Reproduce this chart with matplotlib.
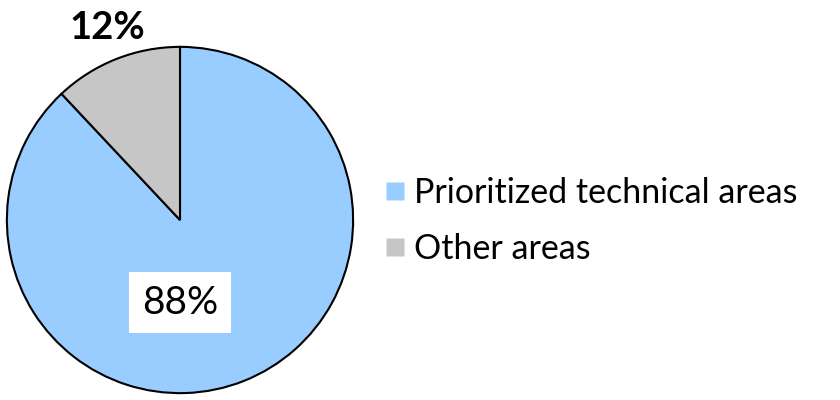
import matplotlib
matplotlib.use("Agg")
import matplotlib.pyplot as plt
from matplotlib.lines import Line2D

categories = ["Prioritized technical areas", "Other areas"]
values = [88, 12]
labels = ["88%", "12%"]
colors = ["#99CCFF", "#C6C6C6"]

plt.rcParams['font.family'] = ['Lato', 'DejaVu Sans']

fig = plt.figure(figsize=(8.4, 4.0), dpi=100)
ax = fig.add_axes([6/840, 6/400, 348/840, 348/400])
ax.pie(values, colors=colors, startangle=90, counterclock=False,
       wedgeprops=dict(edgecolor="black", linewidth=1.5))
ax.set_xlim(-1.005, 1.005)
ax.set_ylim(-1.005, 1.005)
ax.set_aspect("equal")
ax.axis("off")

ax.text(0.0, -0.477, labels[0], ha="center", va="center", fontsize=28,
        fontweight="normal", bbox=dict(facecolor="white", edgecolor="none", pad=9))
ax.text(-0.422, 1.109, labels[1], ha="center", va="center", fontsize=27.5,
        fontweight="bold", clip_on=False)

handles = [Line2D([], [], marker="s", linestyle="none", markersize=13,
                  markerfacecolor=c, markeredgecolor="none") for c in colors]
fig.legend(handles, categories, loc="center left", bbox_to_anchor=(351/840, 0.4475),
           frameon=False, fontsize=24.5, handletextpad=0.15, labelspacing=0.7,
           handlelength=0.8)
fig.savefig("out.png", dpi=100)
